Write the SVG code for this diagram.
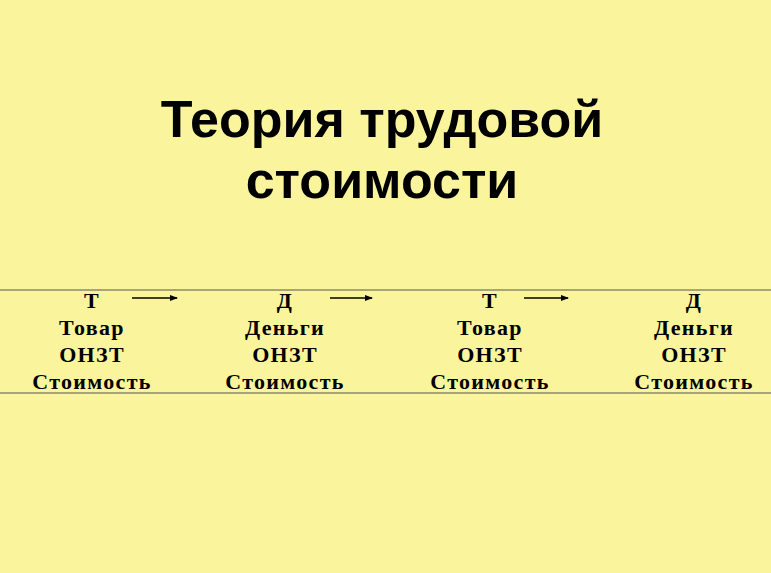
<svg xmlns="http://www.w3.org/2000/svg" width="771" height="573" viewBox="0 0 771 573">
<style>
.t{font-family:"Liberation Sans",Arial,sans-serif;font-weight:bold;font-size:52px;text-anchor:middle;fill:#000}
.c{font-family:"Liberation Serif","Times New Roman",serif;font-weight:bold;font-size:22px;letter-spacing:1.3px;text-anchor:middle;fill:#000}
.l{stroke:#555;stroke-width:1}
.a{stroke:#000;stroke-width:1.5;marker-end:url(#m)}
</style>
<defs><marker id="m" markerWidth="8" markerHeight="6" refX="7" refY="3" orient="auto" markerUnits="userSpaceOnUse"><path d="M0,0L8,3L0,6z"/></marker></defs>
<rect width="771" height="573" fill="#FAF59C"/>
<text class="t" x="382" y="137">Теория трудовой</text>
<text class="t" x="382" y="198">стоимости</text>
<line class="l" x1="0" y1="290" x2="771" y2="290"/>
<line class="l" x1="0" y1="393" x2="771" y2="393"/>
<g id="n1"><text class="c" x="92" y="308">Т</text><text class="c" x="92" y="335">Товар</text><text class="c" x="92" y="362">ОНЗТ</text><text class="c" x="92" y="389">Стоимость</text></g>
<g id="n2"><text class="c" x="285" y="308">Д</text><text class="c" x="285" y="335">Деньги</text><text class="c" x="285" y="362">ОНЗТ</text><text class="c" x="285" y="389">Стоимость</text></g>
<g id="n3"><text class="c" x="490" y="308">Т</text><text class="c" x="490" y="335">Товар</text><text class="c" x="490" y="362">ОНЗТ</text><text class="c" x="490" y="389">Стоимость</text></g>
<g id="n4"><text class="c" x="694" y="308">Д</text><text class="c" x="694" y="335">Деньги</text><text class="c" x="694" y="362">ОНЗТ</text><text class="c" x="694" y="389">Стоимость</text></g>
<g id="connectors">
<line class="a" x1="132" y1="298" x2="177" y2="298"/>
<line class="a" x1="330" y1="298" x2="372" y2="298"/>
<line class="a" x1="524" y1="298" x2="568" y2="298"/>
</g>
</svg>
